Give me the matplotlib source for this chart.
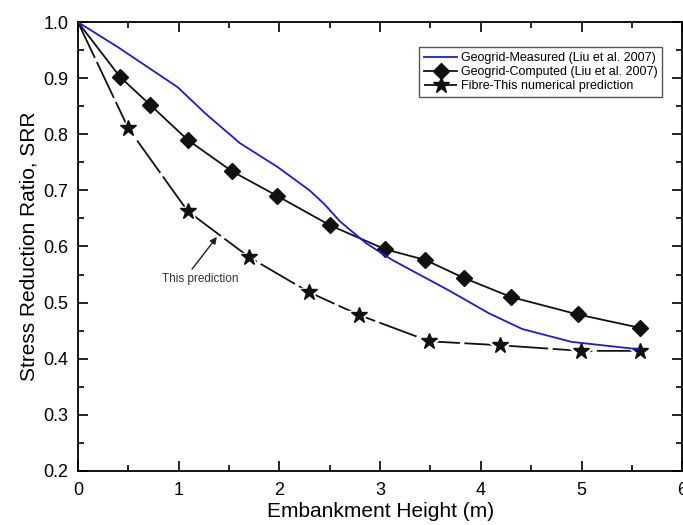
import numpy as np
import matplotlib
matplotlib.use('Agg')
import matplotlib.pyplot as plt
from matplotlib.ticker import MultipleLocator

plt.rcParams['font.family'] = ['Liberation Sans', 'DejaVu Sans']

# Geogrid-Measured (Liu et al. 2007)
meas_x = [0.0, 0.40, 0.99, 1.26, 1.61, 1.98, 2.30, 2.45, 2.60, 2.86, 3.12, 3.68, 4.08, 4.41, 4.90, 5.56]
meas_y = [1.0, 0.955, 0.884, 0.838, 0.784, 0.742, 0.700, 0.675, 0.645, 0.606, 0.576, 0.522, 0.481, 0.453, 0.430, 0.417]

# Geogrid-Computed (Liu et al. 2007)
comp_x = [0.0, 0.42, 0.72, 1.09, 1.53, 1.98, 2.50, 3.05, 3.45, 3.83, 4.30, 4.96, 5.58]
comp_y = [1.0, 0.902, 0.852, 0.790, 0.734, 0.690, 0.638, 0.595, 0.576, 0.544, 0.510, 0.479, 0.455]

# Fibre-This numerical prediction
fib_x = [0.0, 0.50, 1.09, 1.70, 2.29, 2.79, 3.49, 4.19, 4.99, 5.58]
fib_y = [1.0, 0.811, 0.663, 0.581, 0.519, 0.478, 0.431, 0.424, 0.414, 0.414]

x_ticks = [0, 1, 2, 3, 4, 5, 6]
y_ticks = [0.2, 0.3, 0.4, 0.5, 0.6, 0.7, 0.8, 0.9, 1.0]

fig = plt.figure(figsize=(6.83, 5.25), dpi=100)
ax = fig.add_axes([0.114, 0.103, 0.885, 0.855])

ax.plot(meas_x, meas_y, color='#1a1adc', lw=1.3, zorder=5,
        label='Geogrid-Measured (Liu et al. 2007)')
ax.plot(comp_x, comp_y, color='#111111', lw=1.3, marker='D', markersize=8.5,
        markevery=list(range(1, len(comp_x))), label='Geogrid-Computed (Liu et al. 2007)')
ax.plot(fib_x, fib_y, color='#111111', lw=1.3, marker='*', markersize=12,
        dashes=(22, 2.5), markevery=list(range(1, len(fib_x))), zorder=2,
        label='Fibre-This numerical prediction')
# gap around the stars, then the stars again on top
ax.plot(fib_x[1:], fib_y[1:], ls='none', marker='*', markersize=19, color='white', zorder=3)
ax.plot(fib_x[1:], fib_y[1:], ls='none', marker='*', markersize=12, color='#111111', zorder=4)

ax.annotate('This prediction', xy=(1.38, 0.617), xytext=(1.21, 0.542),
            ha='center', va='center', fontsize=8.5, color='#333333',
            arrowprops=dict(arrowstyle='-|>', color='#222222', lw=1, shrinkA=1,
                            shrinkB=0, relpos=(0.36, 1.0), mutation_scale=10))

ax.set_xlim(0, 6)
ax.set_ylim(0.2, 1.0)
ax.set_xticks(x_ticks)
ax.set_xticklabels([str(v) for v in x_ticks])
ax.set_yticks(y_ticks)
ax.set_yticklabels(['%.1f' % v for v in y_ticks])
ax.xaxis.set_minor_locator(MultipleLocator(0.5))
ax.yaxis.set_minor_locator(MultipleLocator(0.05))
ax.tick_params(which='both', direction='in', top=True, right=True, labelsize=13, width=1.2)
ax.tick_params(which='major', length=7)
ax.tick_params(which='minor', length=4)
ax.tick_params(axis='x', pad=8)
ax.tick_params(axis='y', pad=7)
for s in ax.spines.values():
    s.set_linewidth(1.3)

ax.set_xlabel('Embankment Height (m)', fontsize=15, labelpad=2)
ax.set_ylabel('Stress Reduction Ratio, SRR', fontsize=15, labelpad=3)

leg = ax.legend(loc='upper right', bbox_to_anchor=(0.967, 0.944), borderaxespad=0,
                fontsize=9, handlelength=2.6, handletextpad=0.3, labelspacing=0.15,
                fancybox=False, edgecolor='#555555', framealpha=1, borderpad=0.4)
leg.get_frame().set_linewidth(1)
leg.set_zorder(10)

fig.savefig('out.png', dpi=100)
